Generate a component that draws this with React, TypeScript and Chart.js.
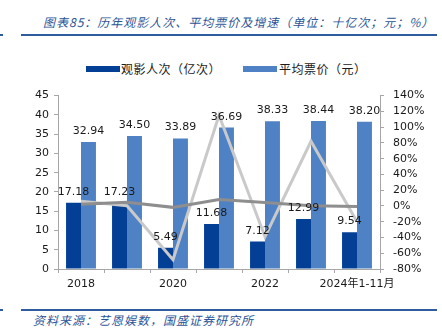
import React, { useEffect, useRef } from 'react';
import { Chart, registerables } from 'chart.js';
Chart.register(...registerables);

const categories = ['2018', '2019', '2020', '2021', '2022', '2023', '2024年1-11月'];
const attendance = [17.18, 17.23, 5.49, 11.68, 7.12, 12.99, 9.54];
const avgPrice = [32.94, 34.5, 33.89, 36.69, 38.33, 38.44, 38.2];
const attendanceGrowth = [5.9, 0.3, -68.2, 115, -39, 82, -20];
const priceGrowth = [2.2, 4.7, -1.8, 8.3, 4.5, 0.3, -0.6];
const leftTicks = [0, 5, 10, 15, 20, 25, 30, 35, 40, 45];
const rightTicks = [-80, -60, -40, -20, 0, 20, 40, 60, 80, 100, 120, 140];

const DARK = '#033F95';
const LIGHT = '#4F81C5';
const BLUE_TEXT = '#2C5598';
const NUM_FONT = '"DejaVu Sans", "Noto Sans CJK SC", sans-serif';
const CJK_FONT = '"Noto Sans CJK SC", sans-serif';

const barLabels = {
  id: 'barLabels',
  afterDatasetsDraw(chart: any) {
    const ctx = chart.ctx;
    ctx.save();
    ctx.font = '11px ' + NUM_FONT;
    ctx.fillStyle = '#1a1a1a';
    ctx.textAlign = 'center';
    ctx.textBaseline = 'alphabetic';
    [0, 1].forEach((di) => {
      const meta = chart.getDatasetMeta(di);
      meta.data.forEach((el: any, i: number) => {
        const v = chart.data.datasets[di].data[i] as number;
        ctx.fillText(v.toFixed(2), el.x, el.y - 8);
      });
    });
    ctx.restore();
  },
};

export default function App() {
  const ref = useRef<HTMLCanvasElement>(null);
  useEffect(() => {
    const axisGrey = '#A6A6A6';
    const chart = new Chart(ref.current as HTMLCanvasElement, {
      type: 'bar',
      data: {
        labels: categories,
        datasets: [
          {
            type: 'bar',
            label: '观影人次（亿次）',
            data: attendance,
            backgroundColor: DARK,
            yAxisID: 'y',
            order: 3,
            categoryPercentage: 0.65,
            barPercentage: 1,
          },
          {
            type: 'bar',
            label: '平均票价（元）',
            data: avgPrice,
            backgroundColor: LIGHT,
            yAxisID: 'y',
            order: 3,
            categoryPercentage: 0.65,
            barPercentage: 1,
          },
          {
            type: 'line',
            label: '观影人次增速',
            data: attendanceGrowth,
            borderColor: '#C9C9C9',
            borderWidth: 3,
            pointRadius: 0,
            tension: 0,
            yAxisID: 'y1',
            order: 2,
          },
          {
            type: 'line',
            label: '平均票价增速',
            data: priceGrowth,
            borderColor: '#8E8E8E',
            borderWidth: 3,
            pointRadius: 0,
            tension: 0,
            yAxisID: 'y1',
            order: 1,
          },
        ] as any,
      },
      options: {
        animation: false,
        responsive: false,
        devicePixelRatio: 1,
        layout: { padding: { top: 9, left: 0, right: 0, bottom: 0 } },
        plugins: {
          legend: { display: false },
          tooltip: { enabled: false },
        },
        scales: {
          x: {
            offset: true,
            grid: {
              display: true,
              drawOnChartArea: false,
              drawTicks: true,
              tickLength: 4,
              offset: true,
              color: axisGrey,
            },
            border: { display: true, color: axisGrey },
            ticks: {
              autoSkip: false,
              maxRotation: 0,
              padding: 5,
              color: '#1a1a1a',
              font: { family: NUM_FONT, size: 11 },
              callback: (_v: any, i: number) => (i % 2 === 0 ? categories[i] : ''),
            },
            afterFit: (s: any) => {
              s.height = 26;
            },
          },
          y: {
            position: 'left',
            min: leftTicks[0],
            max: leftTicks[leftTicks.length - 1],
            grid: {
              display: true,
              drawOnChartArea: false,
              drawTicks: true,
              tickLength: 4,
              color: axisGrey,
            },
            border: { display: true, color: axisGrey },
            ticks: {
              autoSkip: false,
              stepSize: 5,
              padding: 5,
              color: '#1a1a1a',
              font: { family: NUM_FONT, size: 11 },
            },
            afterBuildTicks: (s: any) => {
              s.ticks = leftTicks.map((v) => ({ value: v }));
            },
            afterFit: (s: any) => {
              s.width = 58;
            },
          },
          y1: {
            position: 'right',
            min: rightTicks[0],
            max: rightTicks[rightTicks.length - 1],
            grid: {
              display: true,
              drawOnChartArea: false,
              drawTicks: true,
              tickLength: 4,
              color: axisGrey,
            },
            border: { display: true, color: axisGrey },
            ticks: {
              autoSkip: false,
              stepSize: 20,
              padding: 9,
              color: '#1a1a1a',
              font: { family: NUM_FONT, size: 11 },
              callback: (v: any) => v + '%',
            },
            afterBuildTicks: (s: any) => {
              s.ticks = rightTicks.map((v) => ({ value: v }));
            },
            afterFit: (s: any) => {
              s.width = 62;
            },
          },
        },
      } as any,
      plugins: [barLabels],
    });
    return () => chart.destroy();
  }, []);

  const abs = (o: React.CSSProperties): React.CSSProperties => ({ position: 'absolute', ...o });
  const textStyle: React.CSSProperties = {
    fontFamily: CJK_FONT,
    fontSize: 12,
    whiteSpace: 'nowrap',
  };

  return (
    <div style={{ position: 'fixed', left: 0, top: 0, width: 442, height: 329, background: '#fff', overflow: 'hidden' }}>
      <div
        style={abs({
          ...textStyle,
          left: 43,
          top: 13,
          lineHeight: '18px',
          color: BLUE_TEXT,
          fontStyle: 'italic',
          letterSpacing: 1,
        })}
      >
        图表85：历年观影人次、平均票价及增速（单位：十亿次；元；%）
      </div>
      <div style={abs({ left: 0, top: 34, width: 3, height: 2, background: '#2E5C9E' })} />
      <div style={abs({ left: 21, top: 34, width: 416, height: 2, background: '#2E5C9E' })} />

      <div style={abs({ left: 86, top: 66, width: 34, height: 6, background: DARK })} />
      <div style={abs({ ...textStyle, left: 121, top: 61, lineHeight: '15px', color: '#1a1a1a', letterSpacing: 0.5 })}>观影人次（亿次）</div>
      <div style={abs({ left: 243, top: 66, width: 34, height: 6, background: LIGHT })} />
      <div style={abs({ ...textStyle, left: 279, top: 61, lineHeight: '15px', color: '#1a1a1a', letterSpacing: 0.5 })}>平均票价（元）</div>

      <div style={abs({ left: 0, top: 80, width: 442, height: 215 })}>
        <canvas ref={ref} width={442} height={215} style={{ display: 'block', width: 442, height: 215 }} />
      </div>

      <div style={abs({ left: 0, top: 309, width: 3, height: 2, background: '#2E5C9E' })} />
      <div style={abs({ left: 21, top: 309, width: 416, height: 2, background: '#2E5C9E' })} />
      <div
        style={abs({
          ...textStyle,
          left: 33,
          top: 312,
          lineHeight: '16px',
          color: BLUE_TEXT,
          fontStyle: 'italic',
          letterSpacing: 1,
        })}
      >
        资料来源：艺恩娱数，国盛证券研究所
      </div>
    </div>
  );
}
